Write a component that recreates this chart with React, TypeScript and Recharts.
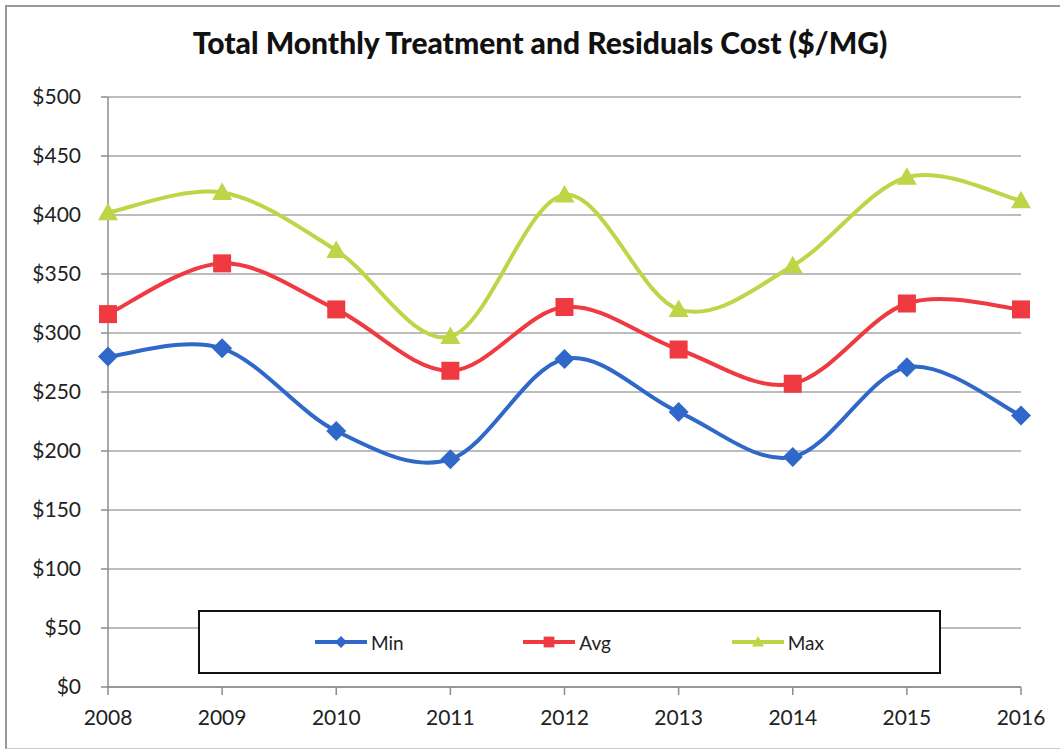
import { LineChart, Line, XAxis, YAxis, CartesianGrid, Legend } from 'recharts';

const years = [2008, 2009, 2010, 2011, 2012, 2013, 2014, 2015, 2016];
const minCost = [280, 287, 217, 193, 278, 233, 195, 271, 230];
const avgCost = [316, 359, 320, 268, 322, 286, 257, 325, 320];
const maxCost = [402, 419, 370, 297, 417, 320, 357, 432, 412];
const yTicks = [0, 50, 100, 150, 200, 250, 300, 350, 400, 450, 500];
const seriesOrder = ['Min', 'Avg', 'Max'];

const data = years.map((year, i) => ({
  year,
  Min: minCost[i],
  Avg: avgCost[i],
  Max: maxCost[i],
}));

const BLUE = '#2f68c9';
const RED = '#ee3a40';
const GREEN = '#bfd547';
const FONT = 'Lato, "Open Sans", sans-serif';

// excel-style smoothing (catmull-rom through the points)
function excelCurve(context: any) {
  let pts: number[][] = [];
  return {
    areaStart() {},
    areaEnd() {},
    lineStart() {
      pts = [];
    },
    point(x: number, y: number) {
      pts.push([+x, +y]);
    },
    lineEnd() {
      const n = pts.length;
      if (!n) return;
      context.moveTo(pts[0][0], pts[0][1]);
      for (let i = 0; i < n - 1; i++) {
        const p0 = pts[i - 1] || pts[i];
        const p1 = pts[i];
        const p2 = pts[i + 1];
        const p3 = pts[i + 2] || p2;
        context.bezierCurveTo(
          p1[0] + (p2[0] - p0[0]) / 6,
          p1[1] + (p2[1] - p0[1]) / 6,
          p2[0] - (p3[0] - p1[0]) / 6,
          p2[1] - (p3[1] - p1[1]) / 6,
          p2[0],
          p2[1]
        );
      }
    },
  };
}

function marker(shape: string, cx: number, cy: number, color: string, r: number, key?: any) {
  if (shape === 'diamond') {
    return <path key={key} d={`M${cx},${cy - r} L${cx + r},${cy} L${cx},${cy + r} L${cx - r},${cy} Z`} fill={color} />;
  }
  if (shape === 'square') {
    return <rect key={key} x={cx - r * 0.9} y={cy - r * 0.9} width={r * 1.8} height={r * 1.8} fill={color} />;
  }
  return <path key={key} d={`M${cx},${cy - r} L${cx + r},${cy + r * 0.75} L${cx - r},${cy + r * 0.75} Z`} fill={color} />;
}

const dotFor = (shape: string, color: string) => (props: any) =>
  marker(shape, props.cx, props.cy, color, 10, `${shape}-${props.index}`);

const shapes: Record<string, string> = { Min: 'diamond', Avg: 'square', Max: 'triangle' };

function LegendBox({ payload }: any) {
  const items = [...(payload || [])].sort(
    (a: any, b: any) => seriesOrder.indexOf(a.value) - seriesOrder.indexOf(b.value)
  );
  return (
    <div
      style={{
        width: 743,
        height: 64,
        border: '2px solid #111',
        background: '#fff',
        display: 'flex',
        alignItems: 'center',
        paddingLeft: 114,
        boxSizing: 'border-box',
        fontFamily: FONT,
        fontSize: 19,
        color: '#222',
      }}
    >
      {items.map((p: any) => (
        <div key={p.value} style={{ width: 210, display: 'flex', alignItems: 'center' }}>
          <svg width={54} height={16}>
            <line x1={1} y1={8} x2={53} y2={8} stroke={p.color} strokeWidth={4} />
            {marker(shapes[p.value], 27, 8, p.color, 6)}
          </svg>
          <span style={{ marginLeft: 3 }}>{p.value}</span>
        </div>
      ))}
    </div>
  );
}

export default function App() {
  return (
    <div style={{ position: 'absolute', left: 0, top: 0, width: 1060, height: 750, background: '#fff', overflow: 'hidden' }}>
      <div
        style={{
          position: 'absolute',
          left: 5,
          top: 5,
          width: 1100,
          height: 741,
          borderLeft: '2px solid #999',
          borderTop: '2px solid #999',
          borderBottom: '1px solid #ccc',
        }}
      />
      <div
        style={{
          position: 'absolute',
          left: 0,
          top: 24,
          width: 1080,
          textAlign: 'center',
          fontFamily: FONT,
          fontWeight: 900,
          fontSize: 30,
          color: '#111',
        }}
      >
        Total Monthly Treatment and Residuals Cost ($/MG)
      </div>
      <LineChart width={1060} height={750} data={data} margin={{ top: 97, right: 39, bottom: 0, left: 0 }}>
        <CartesianGrid vertical={false} stroke="#a6a6a6" strokeWidth={1.5} />
        <XAxis
          dataKey="year"
          type="number"
          domain={[2008, 2016]}
          ticks={years}
          height={63}
          tickSize={8}
          tickMargin={15}
          stroke="#8c8c8c"
          strokeWidth={1.5}
          tick={{ fill: '#222', fontSize: 21, fontFamily: FONT }}
        />
        <YAxis
          domain={[0, 500]}
          ticks={yTicks}
          width={108}
          tickSize={7}
          tickMargin={20}
          stroke="#8c8c8c"
          strokeWidth={1.5}
          tickFormatter={(v: number) => `$${v}`}
          tick={{ fill: '#222', fontSize: 21, fontFamily: FONT }}
        />
        <Legend
          layout="horizontal"
          verticalAlign="middle"
          align="center"
          content={<LegendBox />}
          wrapperStyle={{ position: 'absolute', left: 198, top: 610, width: 743 }}
        />
        <Line dataKey="Min" type={excelCurve as any} stroke={BLUE} strokeWidth={4} dot={dotFor('diamond', BLUE)} isAnimationActive={false} />
        <Line dataKey="Avg" type={excelCurve as any} stroke={RED} strokeWidth={4} dot={dotFor('square', RED)} isAnimationActive={false} />
        <Line dataKey="Max" type={excelCurve as any} stroke={GREEN} strokeWidth={4} dot={dotFor('triangle', GREEN)} isAnimationActive={false} />
      </LineChart>
    </div>
  );
}
